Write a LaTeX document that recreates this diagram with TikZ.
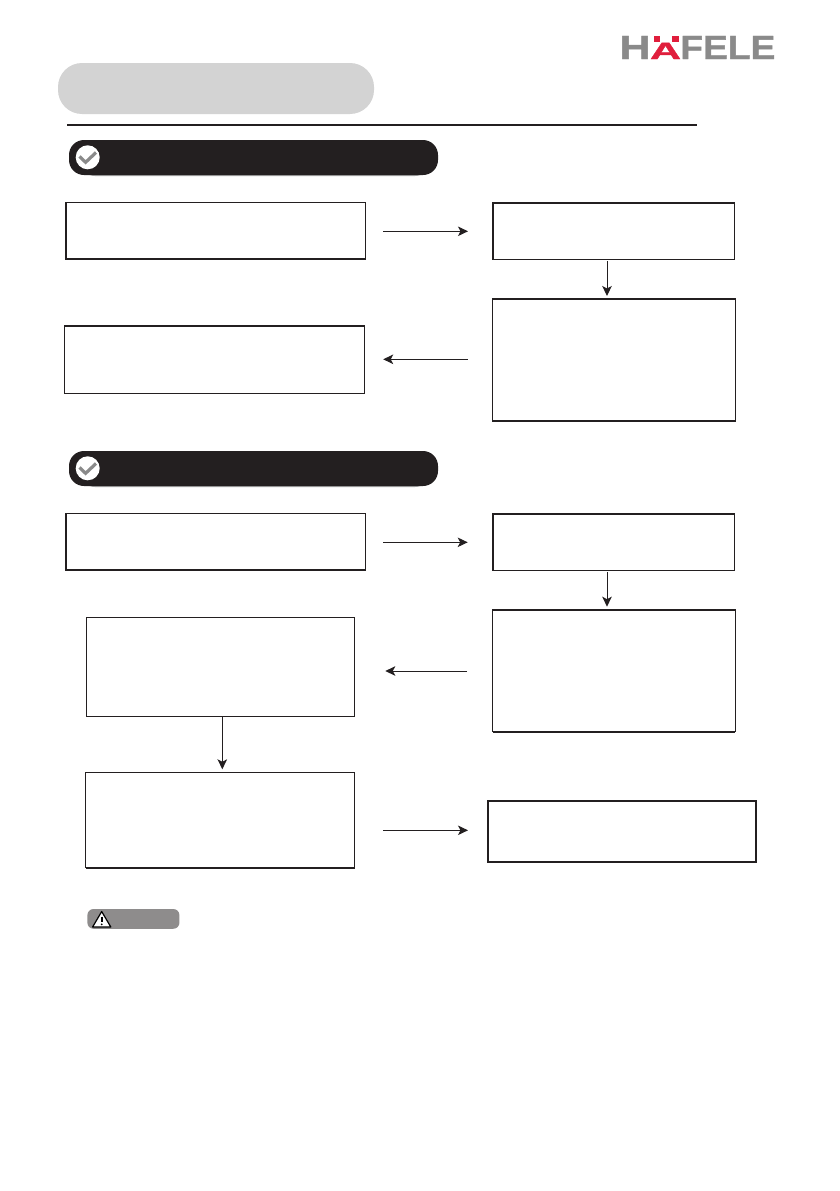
\documentclass[tikz,border=0pt]{standalone}
\usepackage{fontspec}
\setmainfont{Liberation Sans}
\newfontfamily\logofont[RawFeature={embolden=1.2}]{Liberation Sans Bold}
\usetikzlibrary{arrows.meta}
\definecolor{ink}{HTML}{231F20}
\definecolor{logogray}{HTML}{8A8A8A}
\definecolor{logored}{HTML}{E01E3C}
\definecolor{pillgray}{HTML}{D3D3D3}
\definecolor{warngray}{HTML}{8E8C8C}
\tikzset{
  flowbox/.style={draw=ink,line width=1.1pt,fill=white,inner sep=0pt,outer sep=0pt},
  heavy/.style={draw=ink,line width=2.2pt,line cap=square},
  medium/.style={draw=ink,line width=1.7pt,line cap=square},
  conn/.style={draw=ink,line width=1pt,-{Stealth[length=10pt,width=9.5pt,inset=2.5pt]}},
  secbar/.style={fill=ink,inner sep=0pt,outer sep=0pt,rounded corners=15pt,minimum width=369pt,minimum height=35pt},
  secshadow/.style={fill=black!35,inner sep=0pt,rounded corners=15pt,minimum width=350pt,minimum height=35pt},
  checkdisc/.style={circle,fill=white,inner sep=0pt,minimum size=24pt},
  checkmark/.style={draw=logogray,line width=3.2pt},
  logotext/.style={inner sep=0pt,outer sep=0pt,anchor=base west,font=\logofont\fontsize{33.5}{33.5}\selectfont,text=logogray}
}
\begin{document}
\begin{tikzpicture}[x=1pt,y=-1pt]
\useasboundingbox (0,0) rectangle (839,1191);
\fill[white] (0,0) rectangle (839,1191);

% logo
\node[logotext] (lh) at (619.6,59) {\scalebox{1.28}[1]{H}};
\node[logotext,text=logored,font=\logofont\fontsize{23.5}{23.5}\selectfont] (la) at (650,59) {\scalebox{1.83}[1]{A}};
\fill[logored] (653.5,36) rectangle (660,42);
\fill[logored] (671.5,36) rectangle (678.5,42);
\node[logotext] (lf) at (680.3,59) {\scalebox{1.11}[1]{FELE}};

% title pill and rule
\node[fill=pillgray,inner sep=0pt,rounded corners=24pt,minimum width=316pt,minimum height=51pt] (title) at (216,88.5) {};
\coordinate (ruleL) at (67,125);
\coordinate (ruleR) at (697,125);
\draw[ink,line width=2pt] (ruleL) -- (ruleR);

% section bars
\node[secshadow] at (255,158.5) {};
\node[secbar] (bar1) at (253.5,157.5) {};
\node[checkdisc] (c1) at (87.7,157.3) {};
\draw[checkmark] (79.5,156.5) -- (85.6,162.3) -- (96,152.5);
\node[secshadow] at (255,469.5) {};
\node[secbar] (bar2) at (253.5,468.5) {};
\node[checkdisc] (c2) at (87.7,468.3) {};
\draw[checkmark] (79.5,467.5) -- (85.6,473.3) -- (96,463.5);

% boxes, section 1
\node[flowbox,minimum width=299.6pt,minimum height=56.7pt] (a1) at (215.5,230.65) {};
\node[flowbox,minimum width=241.3pt,minimum height=56.3pt] (a2) at (613.65,231.15) {};
\node[flowbox,minimum width=243.2pt,minimum height=122pt] (a3) at (614.1,360) {};
\node[flowbox,minimum width=300.4pt,minimum height=67.3pt] (a4) at (214.5,359.65) {};
\draw[heavy] (a1.north west) -- (a1.south west) -- (a1.south east);
\draw[heavy] (a2.south west) -- (a2.north west) -- (a2.north east);
\draw[medium] (a3.north west) -- (a3.north east);
\draw[medium] (a3.south west) -- (a3.south east);
\draw[medium] (a4.north west) -- (a4.north east);

% boxes, section 2
\node[flowbox,minimum width=299.6pt,minimum height=56.3pt] (b1) at (215.5,541.85) {};
\node[flowbox,minimum width=241.6pt,minimum height=56.3pt] (b2) at (613.5,542.15) {};
\node[flowbox,minimum width=242.6pt,minimum height=122pt] (b3) at (614,670.7) {};
\node[flowbox,minimum width=268pt,minimum height=99pt] (b4) at (220.3,666.8) {};
\node[flowbox,minimum width=269pt,minimum height=95.4pt] (b5) at (220.2,820) {};
\node[flowbox,line width=2pt,minimum width=268pt,minimum height=61pt] (b6) at (622,831.5) {};
\draw[heavy] (b1.north west) -- (b1.south west) -- (b1.south east);
\draw[heavy] (b2.south west) -- (b2.north west) -- (b2.north east);
\draw[medium] (b3.north west) -- (b3.north east);
\draw[medium] (b3.south west) -- (b3.south east);
\draw[heavy] (b5.south west) -- (b5.south east);

% connector levels
\coordinate (y1) at (0,231.3);
\coordinate (y2) at (0,359.3);
\coordinate (y3) at (0,542.3);
\coordinate (y4) at (0,671);
\coordinate (y5) at (0,830.3);
\coordinate (x1) at (607,0);
\coordinate (x2) at (222.3,0);

\draw[conn,shorten <=18pt,shorten >=25pt] (a1.east |- y1) -- (a2.west |- y1);
\draw[conn,shorten <=2pt,shorten >=3pt] (a2.south -| x1) -- (a3.north -| x1);
\draw[conn,shorten <=25pt,shorten >=18.5pt] (a3.west |- y2) -- (a4.east |- y2);
\draw[conn,shorten <=18pt,shorten >=25pt] (b1.east |- y3) -- (b2.west |- y3);
\draw[conn,shorten <=2pt,shorten >=3pt] (b2.south -| x1) -- (b3.north -| x1);
\draw[conn,shorten <=25.5pt,shorten >=31pt] (b3.west |- y4) -- (b4.east |- y4);
\draw[conn,shorten >=3pt] (b4.south -| x2) -- (b5.north -| x2);
\draw[conn,shorten <=28.5pt,shorten >=20pt] (b5.east |- y5) -- (b6.west |- y5);

% warning tag
\node[fill=warngray,inner sep=0pt,rounded corners=6pt,minimum width=92pt,minimum height=19.7pt] (warn) at (133.4,918.9) {};
\draw[draw=black,fill=white,line width=1.2pt,line join=round] (101.7,911.5) -- (110.8,927) -- (92.6,927) -- cycle;
\draw[black,line width=1.6pt] (101.7,916.5) -- (101.7,922);
\fill[black] (101.7,924.4) circle (1pt);
\end{tikzpicture}
\end{document}
